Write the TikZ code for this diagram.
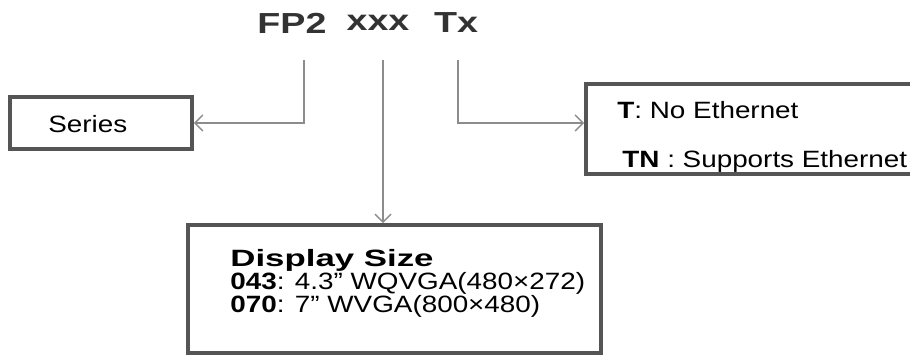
\documentclass[tikz,border=0pt]{standalone}
\usepackage{fontspec}
\setmainfont{Liberation Sans}[FakeStretch=1.18]
\usepackage{graphicx}
\usepackage{xcolor}
\usetikzlibrary{arrows.meta}
\definecolor{title}{HTML}{333333}
\definecolor{frame}{HTML}{555555}
\definecolor{arrowgray}{HTML}{8C8C8C}
\newcommand{\widebf}[2]{\scalebox{#1}[1]{\bfseries #2}}
\tikzset{
  box/.style={draw=frame, line width=1.8pt, inner sep=0pt},
  wire/.style={draw=arrowgray, line width=0.75pt, -{Straight Barb[length=4pt,width=8pt,line width=0.75pt]}},
  code/.style={text=title, inner sep=0pt, font=\fontsize{14.5}{16}\selectfont},
  lbl/.style={text=black, inner sep=0pt, anchor=base west, font=\fontsize{11.8}{11.5}\selectfont}
}

\begin{document}
\begin{tikzpicture}[x=0.5pt, y=-0.5pt]
  \useasboundingbox (0,0) rectangle (910,354);

  % part number
  \node[code] (fp) at (292,23) {\widebf{1.1}{FP2}};
  \node[code] (xx) at (378,23) {\widebf{1.1}{xxx}};
  \node[code] (tx) at (456,23) {\widebf{1.1}{Tx}};
  \coordinate (fpfoot) at (304,60);
  \coordinate (xxfoot) at (383,60);
  \coordinate (txfoot) at (458,60);

  % boxes
  \node[box, minimum width=91pt, minimum height=26pt] (series) at (101,123) {};
  \node[box, minimum width=187pt, minimum height=45pt] (eth) at (773,129) {};
  \node[box, minimum width=206.5pt, minimum height=64pt] (size) at (394.5,289) {};

  \node[lbl] (seriestxt) at (48,132) {Series};
  \node[lbl] (notxt) at (617,118) {\textbf{T}: No Ethernet};
  \node[lbl] (yestxt) at (622,167) {\textbf{TN} : Supports Ethernet};
  \node[lbl, anchor=north west, align=left] (sizetxt) at (230,249)
    {\widebf{1.25}{Display Size}\\
     \textbf{043}: 4.3” WQVGA(480×272)\\
     \textbf{070}: 7” WVGA(800×480)};

  % connectors
  \draw[wire] (fpfoot) |- (series.east);
  \draw[wire] (xxfoot) -- (xxfoot |- size.north);
  \draw[wire] (txfoot) |- ([yshift=3pt]eth.west);
\end{tikzpicture}
\end{document}
